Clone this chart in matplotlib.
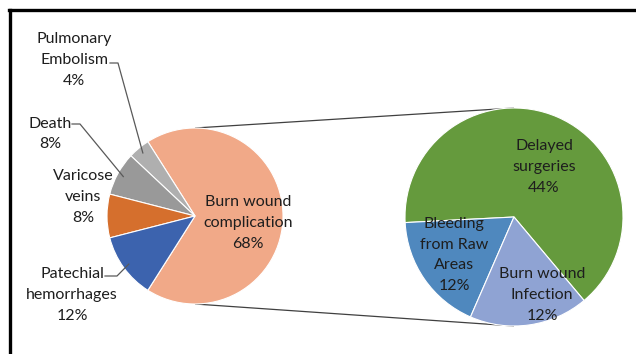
import numpy as np
import matplotlib
matplotlib.use("Agg")
import matplotlib.pyplot as plt
from matplotlib.lines import Line2D

plt.rcParams['font.family'] = ['Lato', 'DejaVu Sans']

# Main pie: complications of burn patients (percent of cases)
main_labels = ["Burn wound\ncomplication", "Pulmonary\nEmbolism", "Death",
               "Varicose\nveins", "Patechial\nhemorrhages"]
main_values = [68, 4, 8, 8, 12]
main_colors = ["#F1A988", "#AFAFAF", "#999999", "#D56F2D", "#3C63AE"]

# Breakdown of burn wound complications
sub_labels = ["Delayed\nsurgeries", "Bleeding\nfrom Raw\nAreas", "Burn wound\nInfection"]
sub_values = [44, 12, 12]
sub_colors = ["#659A3D", "#4F88BE", "#8FA3D3"]

W, H = 636, 354
fig = plt.figure(figsize=(W / 100, H / 100), dpi=100)
ax = fig.add_axes([0, 0, 1, 1])

TXT = "#1E1E1E"
FS = 11.5
LS = 1.6

# left pie geometry (pixel units, y up)
c1 = (195, 138)
r1 = 88
# right pie geometry
c2 = (514, 137)
r2 = 109

# main pie, "other" slice centred on the right
start1 = -main_values[0] / 100 * 360 / 2
w1, _ = ax.pie(main_values, colors=main_colors, startangle=start1, counterclock=True,
               center=c1, radius=r1, normalize=True,
               wedgeprops=dict(edgecolor="white", linewidth=0.8))

# secondary pie
w2, _ = ax.pie(sub_values, colors=sub_colors, startangle=-50, counterclock=True,
               center=c2, radius=r2, normalize=True,
               wedgeprops=dict(edgecolor="white", linewidth=0.8))

# connector lines between the pies
for s in (1, -1):
    ax.plot([c1[0], c2[0]], [c1[1] + s * r1, c2[1] + s * r2],
            color="#404040", lw=0.9, solid_capstyle="butt", zorder=0)

def pct(v):
    return f"{v}%"

# labels inside slices
ax.text(248, H - 223, f"{main_labels[0]}\n{pct(main_values[0])}", ha="center", va="center",
        fontsize=FS, color=TXT, linespacing=LS)
ax.text(544, H - 167, f"{sub_labels[0]}\n{pct(sub_values[0])}", ha="center", va="center",
        fontsize=FS, color=TXT, linespacing=LS)
ax.text(454, H - 255, f"{sub_labels[1]}\n{pct(sub_values[1])}", ha="center", va="center",
        fontsize=FS, color=TXT, linespacing=LS)
ax.text(542, H - 295, f"{sub_labels[2]}\n{pct(sub_values[2])}", ha="center", va="center",
        fontsize=FS, color=TXT, linespacing=LS)

# outside labels for the small slices, with leader lines
outside = {
    1: dict(pos=(74, H - 60), elbow=((110, H - 63), (118, H - 63))),
    2: dict(pos=(50, H - 134), elbow=((72, H - 124), (80, H - 124))),
    3: dict(pos=(83, H - 197), elbow=None),
    4: dict(pos=(72, H - 295), elbow=((105, H - 276), (117, H - 276))),
}
for i, spec in outside.items():
    ax.text(*spec["pos"], f"{main_labels[i]}\n{pct(main_values[i])}", ha="center",
            va="center", fontsize=FS, color=TXT, linespacing=LS)
    if spec["elbow"] is not None:
        wdg = w1[i]
        mid = np.deg2rad((wdg.theta1 + wdg.theta2) / 2)
        rr = r1 * 0.93
        end = (c1[0] + rr * np.cos(mid), c1[1] + rr * np.sin(mid))
        (x0, y0), (x1, y1) = spec["elbow"]
        ax.plot([x0, x1, end[0]], [y0, y1, end[1]], color="#595959", lw=0.9, zorder=3)

ax.set_xlim(0, W)
ax.set_ylim(0, H)
ax.set_aspect("auto")
ax.axis("off")

# chart frame (left and top edges)
fig.add_artist(Line2D([9.5 / W, 9.5 / W], [0, 1 - 9.5 / H], color="black", lw=2.4,
                      transform=fig.transFigure))
fig.add_artist(Line2D([8.5 / W, 1], [1 - 9.5 / H, 1 - 9.5 / H], color="black", lw=2.4,
                      transform=fig.transFigure))

fig.savefig("out.png", dpi=100)
